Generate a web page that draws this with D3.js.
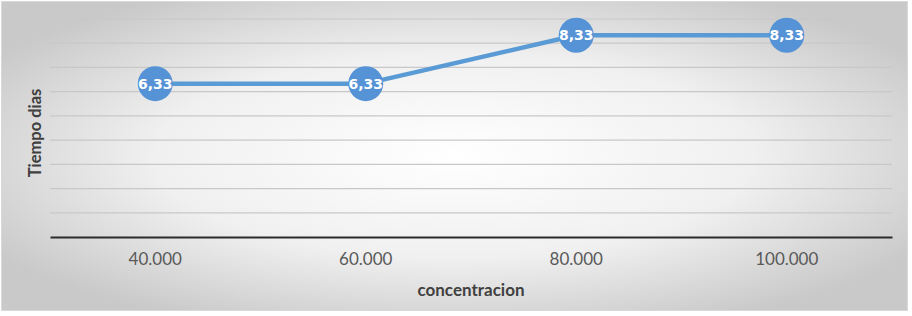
<!DOCTYPE html>
<html>
<head>
<meta charset="utf-8">
<script src="https://cdn.jsdelivr.net/npm/d3@7"></script>
<style>
  body { margin: 0; background: #fff; }
  svg { display: block; }
</style>
</head>
<body>
<div id="chart"></div>
<script>
var categories = ["40.000", "60.000", "80.000", "100.000"];
var values = [6.33, 6.33, 8.33, 8.33];
var yTicks = [0, 1, 2, 3, 4, 5, 6, 7, 8, 9];

var width = 912, height = 316;
var margin = {top: 19, right: 20, bottom: 79, left: 50};

var svg = d3.select("#chart").append("svg")
  .attr("width", width)
  .attr("height", height);

var defs = svg.append("defs");
var grad = defs.append("radialGradient")
  .attr("id", "bg")
  .attr("cx", "50%").attr("cy", "50%").attr("r", "60%");
grad.append("stop").attr("offset", "0%").attr("stop-color", "#ffffff");
grad.append("stop").attr("offset", "55%").attr("stop-color", "#f0f0f0");
grad.append("stop").attr("offset", "100%").attr("stop-color", "#c9c9c9");

// chart area frame
svg.append("rect")
  .attr("x", 1.5).attr("y", 1.5)
  .attr("width", 906).attr("height", 309)
  .attr("fill", "url(#bg)")
  .attr("stroke", "#d9d9d9");

var x = d3.scaleBand()
  .domain(categories)
  .range([margin.left, width - margin.right])
  .padding(0);

var y = d3.scaleLinear()
  .domain([0, 9])
  .range([237, margin.top]);

// gridlines
svg.append("g")
  .selectAll("line")
  .data(yTicks.filter(function(d) { return d > 0; }))
  .join("line")
    .attr("x1", x.range()[0])
    .attr("x2", x.range()[1])
    .attr("y1", function(d) { return y(d); })
    .attr("y2", function(d) { return y(d); })
    .attr("stroke", "#c8c8c8")
    .attr("stroke-width", 1.2);

// x axis
var xAxis = svg.append("g")
  .attr("transform", "translate(0," + y(0) + ")")
  .call(d3.axisBottom(x).tickSize(0).tickPadding(16));
xAxis.select(".domain")
  .attr("stroke", "#2b2b2b")
  .attr("stroke-width", 2.2);
xAxis.selectAll("text")
  .attr("font-family", "Lato, 'Open Sans', sans-serif")
  .attr("font-size", 17)
  .attr("fill", "#595959");

// axis titles
svg.append("text")
  .attr("x", (x.range()[0] + x.range()[1]) / 2)
  .attr("y", 296)
  .attr("text-anchor", "middle")
  .attr("font-family", "Lato, 'Open Sans', sans-serif")
  .attr("font-weight", "bold")
  .attr("font-size", 17)
  .attr("fill", "#404040")
  .text("concentracion");

svg.append("text")
  .attr("transform", "translate(41," + ((y(0) + y(9)) / 2 + 5) + ") rotate(-90)")
  .attr("text-anchor", "middle")
  .attr("font-family", "Lato, 'Open Sans', sans-serif")
  .attr("font-weight", "bold")
  .attr("font-size", 16.5)
  .attr("fill", "#404040")
  .text("Tiempo dias");

// line
var line = d3.line()
  .x(function(d, i) { return x(categories[i]) + x.bandwidth() / 2; })
  .y(function(d) { return y(d); });

svg.append("path")
  .datum(values)
  .attr("fill", "none")
  .attr("stroke", "#5b9bd5")
  .attr("stroke-width", 4.5)
  .attr("stroke-linejoin", "round")
  .attr("d", line);

var pts = svg.append("g")
  .selectAll("g")
  .data(values)
  .join("g")
    .attr("transform", function(d, i) {
      return "translate(" + (x(categories[i]) + x.bandwidth() / 2) + "," + y(d) + ")";
    });

pts.append("circle")
  .attr("r", 17.5)
  .attr("fill", "#5693d6");

pts.append("text")
  .attr("text-anchor", "middle")
  .attr("dy", "0.36em")
  .attr("font-family", "'DejaVu Sans', Verdana, sans-serif")
  .attr("font-weight", "bold")
  .attr("font-size", 14)
  .attr("fill", "#ffffff")
  .text(function(d) { return d3.format(".2f")(d).replace(".", ","); });
</script>
</body>
</html>
